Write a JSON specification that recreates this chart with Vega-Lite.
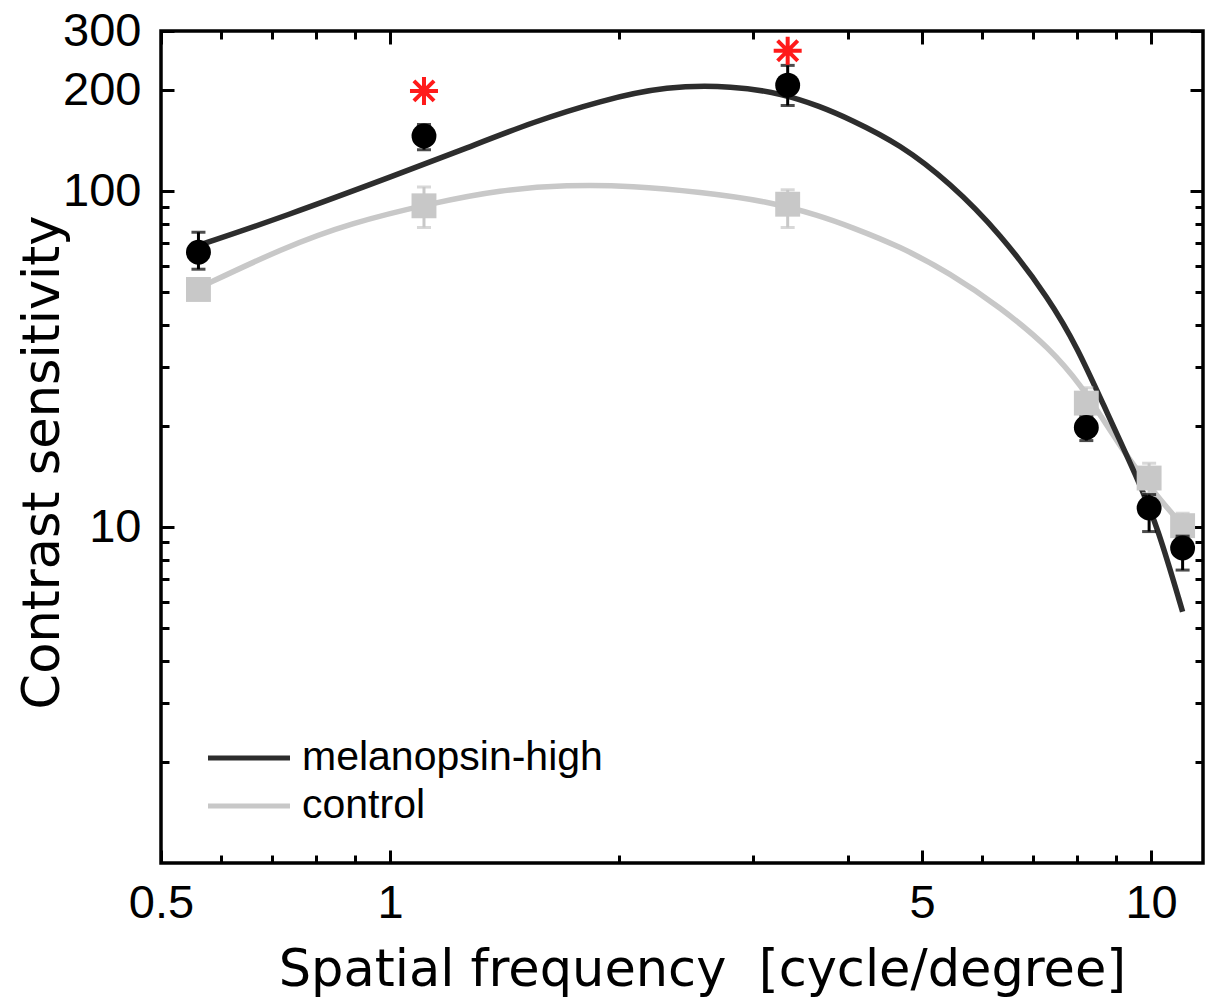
{
  "$schema": "https://vega.github.io/schema/vega-lite/v6.json",
  "width": 1042,
  "height": 832,
  "autosize": "none",
  "padding": {"left": 161, "top": 31, "right": 3, "bottom": 136},
  "background": "white",
  "config": {
    "view": {"stroke": "black", "strokeWidth": 3.5},
    "axis": {
      "domain": false,
      "grid": false,
      "tickColor": "black",
      "tickWidth": 3,
      "labelFont": "Liberation Sans",
      "labelFontSize": 47,
      "labelColor": "black",
      "labelFlush": false,
      "labelOverlap": false,
      "labelBound": false,
      "titleFont": "DejaVu Sans",
      "titleFontSize": 51,
      "titleFontWeight": "normal",
      "titleColor": "black"
    }
  },
  "datasets": {
    "curves": [
      {"group": "control", "freq": 0.56, "cs": 51.5},
      {"group": "control", "freq": 0.723, "cs": 67.8},
      {"group": "control", "freq": 0.886, "cs": 80.4},
      {"group": "control", "freq": 1.139, "cs": 92.3},
      {"group": "control", "freq": 1.394, "cs": 100.9},
      {"group": "control", "freq": 1.708, "cs": 104.5},
      {"group": "control", "freq": 2.085, "cs": 103.8},
      {"group": "control", "freq": 2.555, "cs": 99.5},
      {"group": "control", "freq": 3.129, "cs": 93.5},
      {"group": "control", "freq": 3.673, "cs": 84.5},
      {"group": "control", "freq": 4.02, "cs": 78.5},
      {"group": "control", "freq": 4.68, "cs": 68.5},
      {"group": "control", "freq": 5.44, "cs": 57.0},
      {"group": "control", "freq": 6.33, "cs": 45.2},
      {"group": "control", "freq": 7.37, "cs": 34.1},
      {"group": "control", "freq": 8.14, "cs": 25.9},
      {"group": "control", "freq": 8.6, "cs": 21.3},
      {"group": "control", "freq": 9.1, "cs": 17.5},
      {"group": "control", "freq": 9.62, "cs": 14.6},
      {"group": "control", "freq": 10.3, "cs": 12.0},
      {"group": "control", "freq": 11.0, "cs": 10.1},
      {"group": "melanopsin-high", "freq": 0.56, "cs": 69},
      {"group": "melanopsin-high", "freq": 0.723, "cs": 83.8},
      {"group": "melanopsin-high", "freq": 1.031, "cs": 113},
      {"group": "melanopsin-high", "freq": 1.262, "cs": 134.6},
      {"group": "melanopsin-high", "freq": 1.541, "cs": 160.8},
      {"group": "melanopsin-high", "freq": 1.888, "cs": 186},
      {"group": "melanopsin-high", "freq": 2.312, "cs": 206},
      {"group": "melanopsin-high", "freq": 2.823, "cs": 206},
      {"group": "melanopsin-high", "freq": 3.283, "cs": 195},
      {"group": "melanopsin-high", "freq": 3.673, "cs": 179},
      {"group": "melanopsin-high", "freq": 4.02, "cs": 164},
      {"group": "melanopsin-high", "freq": 4.68, "cs": 138},
      {"group": "melanopsin-high", "freq": 5.44, "cs": 106},
      {"group": "melanopsin-high", "freq": 6.33, "cs": 75},
      {"group": "melanopsin-high", "freq": 7.37, "cs": 47.4},
      {"group": "melanopsin-high", "freq": 8.02, "cs": 33.8},
      {"group": "melanopsin-high", "freq": 8.6, "cs": 23.9},
      {"group": "melanopsin-high", "freq": 9.62, "cs": 13.8},
      {"group": "melanopsin-high", "freq": 10.2, "cs": 10.0},
      {"group": "melanopsin-high", "freq": 11.0, "cs": 5.6}
    ],
    "points": [
      {"group": "melanopsin-high", "freq": 0.56, "cs": 65.8, "lo": 58.6, "hi": 75.5},
      {"group": "melanopsin-high", "freq": 1.108, "cs": 146, "lo": 133, "hi": 158},
      {"group": "melanopsin-high", "freq": 3.33, "cs": 207, "lo": 180, "hi": 237},
      {"group": "melanopsin-high", "freq": 8.22, "cs": 19.8, "lo": 18.1, "hi": 21.3},
      {"group": "melanopsin-high", "freq": 9.94, "cs": 11.4, "lo": 9.7, "hi": 12.5},
      {"group": "melanopsin-high", "freq": 11.0, "cs": 8.67, "lo": 7.45, "hi": 9.4},
      {"group": "control", "freq": 0.56, "cs": 51, "lo": 48, "hi": 54},
      {"group": "control", "freq": 1.108, "cs": 90.5, "lo": 78, "hi": 103},
      {"group": "control", "freq": 3.33, "cs": 91.5, "lo": 78, "hi": 101},
      {"group": "control", "freq": 8.22, "cs": 23.4, "lo": 20.9, "hi": 26},
      {"group": "control", "freq": 9.94, "cs": 14.0, "lo": 12.6, "hi": 15.5},
      {"group": "control", "freq": 11.0, "cs": 10.1, "lo": 9.2, "hi": 11.0}
    ],
    "stars": [
      {"freq": 1.108, "cs": 199},
      {"freq": 3.33, "cs": 262}
    ]
  },
  "layer": [
    {
      "layer": [
        {
          "data": {"name": "curves"},
          "mark": {"type": "line", "interpolate": "basis", "strokeWidth": 5.5},
          "encoding": {
            "x": {
              "field": "freq", "type": "quantitative",
              "scale": {"type": "log", "domain": [0.5, 11.7], "nice": false},
              "axis": {
                "orient": "bottom",
                "values": [0.5, 0.6, 0.7, 0.8, 0.9, 1, 2, 3, 4, 5, 6, 7, 8, 9, 10],
                "format": "~g",
                "labelExpr": "indexof([0.5,1,5,10], datum.value) >= 0 ? datum.label : ''",
                "tickSize": {"condition": {"test": "indexof([0.5,1,5,10], datum.value) >= 0", "value": -13}, "value": -8},
                "labelPadding": 30,
                "title": "Spatial frequency \u00a0[cycle/degree]",
                "titleX": 541,
                "titleY": 122,
                "titleAlign": "center",
                "titleBaseline": "alphabetic"
              }
            },
            "y": {
              "field": "cs", "type": "quantitative",
              "scale": {"type": "log", "domain": [1, 300], "nice": false},
              "axis": {
                "orient": "left",
                "values": [2, 3, 4, 5, 6, 7, 8, 9, 10, 20, 30, 40, 50, 60, 70, 80, 90, 100, 200, 300],
                "format": "~g",
                "labelExpr": "indexof([10,100,200,300], datum.value) >= 0 ? datum.label : ''",
                "tickSize": {"condition": {"test": "indexof([10,100,200,300], datum.value) >= 0", "value": -13}, "value": -8},
                "labelPadding": 33,
                "labelAlign": "right",
                "labelBaseline": "middle",
                "title": "Contrast sensitivity",
                "titleAngle": -90,
                "titleX": -103,
                "titleY": 431,
                "titleAlign": "center",
                "titleBaseline": "alphabetic"
              }
            },
            "color": {
              "field": "group", "type": "nominal",
              "scale": {"domain": ["melanopsin-high", "control"], "range": ["#2d2d2d", "#c8c8c8"]},
              "legend": {
                "orient": "none",
                "legendX": 67.5,
                "legendY": 706.5,
                "title": null,
                "padding": 0,
                "symbolType": "M-3,0L3,0",
                "symbolSize": 747,
                "symbolStrokeWidth": 5,
                "symbolFillColor": "transparent",
                "labelFont": "Liberation Sans",
                "labelFontSize": 41,
                "labelColor": "black",
                "labelOffset": 32.5,
                "rowPadding": 6,
                "labelLimit": 500
              }
            }
          }
        },
        {
          "data": {"name": "points"},
          "transform": [{"filter": "datum.group === 'control'"}],
          "mark": {"type": "rule", "color": "#c8c8c8", "strokeWidth": 3},
          "encoding": {
            "x": {"field": "freq", "type": "quantitative"},
            "y": {"field": "lo", "type": "quantitative"},
            "y2": {"field": "hi"}
          }
        },
        {
          "data": {"name": "points"},
          "transform": [{"filter": "datum.group === 'control'"}, {"fold": ["lo", "hi"], "as": ["end", "ev"]}],
          "mark": {"type": "tick", "orient": "horizontal", "color": "#c8c8c8", "size": 14, "thickness": 3},
          "encoding": {
            "x": {"field": "freq", "type": "quantitative"},
            "y": {"field": "ev", "type": "quantitative"}
          }
        },
        {
          "data": {"name": "points"},
          "transform": [{"filter": "datum.group === 'control'"}],
          "mark": {"type": "point", "shape": "square", "filled": true, "color": "#c8c8c8", "opacity": 1, "size": 620},
          "encoding": {
            "x": {"field": "freq", "type": "quantitative"},
            "y": {"field": "cs", "type": "quantitative"}
          }
        },
        {
          "data": {"name": "points"},
          "transform": [{"filter": "datum.group === 'melanopsin-high'"}],
          "mark": {"type": "rule", "color": "black", "strokeWidth": 3},
          "encoding": {
            "x": {"field": "freq", "type": "quantitative"},
            "y": {"field": "lo", "type": "quantitative"},
            "y2": {"field": "hi"}
          }
        },
        {
          "data": {"name": "points"},
          "transform": [{"filter": "datum.group === 'melanopsin-high'"}, {"fold": ["lo", "hi"], "as": ["end", "ev"]}],
          "mark": {"type": "tick", "orient": "horizontal", "color": "black", "size": 14, "thickness": 3},
          "encoding": {
            "x": {"field": "freq", "type": "quantitative"},
            "y": {"field": "ev", "type": "quantitative"}
          }
        },
        {
          "data": {"name": "points"},
          "transform": [{"filter": "datum.group === 'melanopsin-high'"}],
          "mark": {"type": "point", "shape": "circle", "filled": true, "color": "black", "opacity": 1, "size": 620},
          "encoding": {
            "x": {"field": "freq", "type": "quantitative"},
            "y": {"field": "cs", "type": "quantitative"}
          }
        },
        {
          "data": {"name": "stars"},
          "mark": {"type": "point", "shape": "M0,-1L0,1M-1,0L1,0M-0.72,-0.72L0.72,0.72M-0.72,0.72L0.72,-0.72", "filled": false, "stroke": "#ff1a1a", "strokeWidth": 4, "opacity": 1, "size": 784},
          "encoding": {
            "x": {"field": "freq", "type": "quantitative"},
            "y": {"field": "cs", "type": "quantitative"}
          }
        }
      ]
    },
    {
      "data": {"name": "stars"},
      "mark": {"type": "point", "opacity": 0},
      "encoding": {
        "x": {
          "field": "freq", "type": "quantitative",
          "scale": {"type": "log", "domain": [0.5, 11.7], "nice": false},
          "axis": {
            "orient": "top",
            "values": [0.5, 0.6, 0.7, 0.8, 0.9, 1, 2, 3, 4, 5, 6, 7, 8, 9, 10],
            "labels": false,
            "tickSize": {"condition": {"test": "indexof([0.5,1,5,10], datum.value) >= 0", "value": -13}, "value": -8},
            "title": null
          }
        },
        "y": {
          "field": "cs", "type": "quantitative",
          "scale": {"type": "log", "domain": [1, 300], "nice": false},
          "axis": {
            "orient": "right",
            "values": [2, 3, 4, 5, 6, 7, 8, 9, 10, 20, 30, 40, 50, 60, 70, 80, 90, 100, 200, 300],
            "labels": false,
            "tickSize": {"condition": {"test": "indexof([10,100,200,300], datum.value) >= 0", "value": -13}, "value": -8},
            "title": null
          }
        }
      }
    }
  ],
  "resolve": {"axis": {"x": "independent", "y": "independent"}}
}
